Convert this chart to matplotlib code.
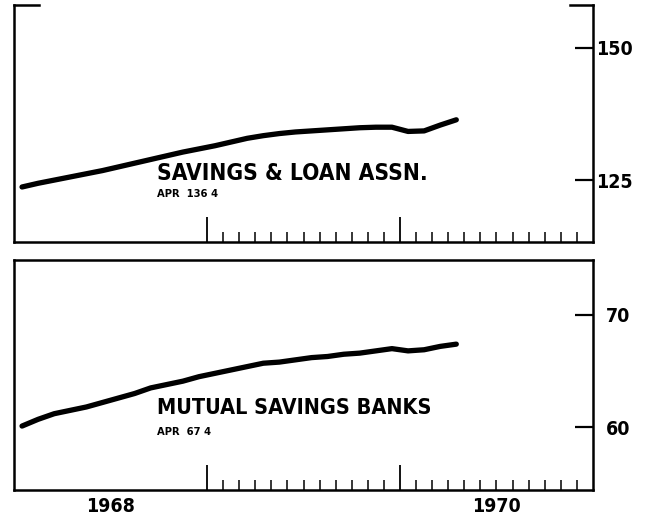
import numpy as np
import matplotlib
matplotlib.use("Agg")
import matplotlib.pyplot as plt
from matplotlib.transforms import blended_transform_factory

# monthly index, 0 = Jan 1968 ... 27 = Apr 1970
months = np.arange(28)
savings_loan = [123.7, 124.4, 125.0, 125.6, 126.2, 126.8, 127.5, 128.2, 128.9, 129.6,
                130.3, 130.9, 131.5, 132.2, 132.9, 133.4, 133.8, 134.1, 134.3, 134.5,
                134.7, 134.9, 135.0, 135.0, 134.2, 134.3, 135.4, 136.4]
mutual_savings = [60.1, 60.7, 61.2, 61.5, 61.8, 62.2, 62.6, 63.0, 63.5, 63.8,
                  64.1, 64.5, 64.8, 65.1, 65.4, 65.7, 65.8, 66.0, 66.2, 66.3,
                  66.5, 66.6, 66.8, 67.0, 66.8, 66.9, 67.2, 67.4]
year_labels = ["1968", "1970"]
year_centers = [6, 30]

panels = [
    {"y": savings_loan, "ylim": (113.3, 158.1), "yticks": [125, 150], "pad": 2,
     "title": "SAVINGS & LOAN ASSN.", "note": "APR  136 4", "title_size": 16.3,
     "title_y": (242-185)/237, "note_y": (242-199)/237},
    {"y": mutual_savings, "ylim": (54.4, 74.9), "yticks": [60, 70], "pad": 9,
     "title": "MUTUAL SAVINGS BANKS", "note": "APR  67 4", "title_size": 15.5,
     "title_y": (490-418)/230, "note_y": (490-437)/230},
]

plt.rcParams['font.family'] = ['DejaVu Sans']
cond = dict(fontweight="bold", fontstretch="condensed")

fig = plt.figure(figsize=(6.5, 5.16), dpi=100)
ax_top = fig.add_axes([14/650, 1-242/516, (593-14)/650, (242-5)/516])
ax_bot = fig.add_axes([14/650, 1-490/516, (593-14)/650, (490-260)/516])

text_x = 157 - 14  # px from left spine

for ax, p in zip([ax_top, ax_bot], panels):
    ax.plot(months + 0.5, p["y"], color="black", lw=3.8, solid_capstyle="round")
    ax.set_xlim(0, 36)
    ax.set_ylim(*p["ylim"])
    for s in ax.spines.values():
        s.set_linewidth(1.8)
    ax.yaxis.tick_right()
    ax.set_yticks(p["yticks"])
    ax.tick_params(axis="y", direction="in", length=13, width=1.6, pad=p["pad"],
                   labelsize=14)
    for lab in ax.get_yticklabels():
        lab.set_fontweight("bold")
        lab.set_fontstretch("condensed")
    # monthly ticks only from 1969 onwards
    ax.set_xticks([12, 24])
    ax.set_xticks(np.arange(13, 36), minor=True)
    ax.xaxis.set_ticklabels([])
    ax.tick_params(axis="x", which="major", direction="in", length=18, width=1.3)
    ax.tick_params(axis="x", which="minor", direction="in", length=7, width=1.1)
    ax.tick_params(axis="x", top=False, which="both")
    ax.text(text_x/579, p["title_y"], p["title"], fontsize=p["title_size"],
            transform=ax.transAxes, va="bottom", **cond)
    ax.text(text_x/579, p["note_y"], p["note"], fontsize=8,
            transform=ax.transAxes, va="bottom", **cond)

# top panel is open, with short corner caps
ax_top.spines["top"].set_visible(False)
ax_top.plot([0, 25/579], [1, 1], color="black", lw=1.8, transform=ax_top.transAxes,
            clip_on=False)
ax_top.plot([1-23/579, 1], [1, 1], color="black", lw=1.8, transform=ax_top.transAxes,
            clip_on=False)

trans = blended_transform_factory(ax_bot.transData, ax_bot.transAxes)
for lab, xc in zip(year_labels, year_centers):
    ax_bot.text(xc, -0.03, lab, transform=trans, ha="center", va="top",
                fontsize=14, **cond)

fig.savefig("out.png", dpi=100)
